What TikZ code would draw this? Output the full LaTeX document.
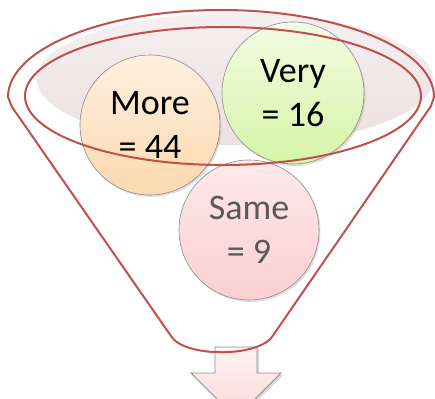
\documentclass[tikz,border=0pt]{standalone}
\usepackage{fontspec}
\setmainfont{Carlito}
\usetikzlibrary{shadows}
\definecolor{fred}{HTML}{C0504D}
\definecolor{ellA}{HTML}{F6EFF0}
\definecolor{ellB}{HTML}{EEDFE1}
\definecolor{moreA}{HTML}{FEF0DF}
\definecolor{moreB}{HTML}{FCD9AF}
\definecolor{veryA}{HTML}{F2FCE4}
\definecolor{veryB}{HTML}{D6F4A6}
\definecolor{sameA}{HTML}{FDE9E9}
\definecolor{sameB}{HTML}{FBCFD1}
\definecolor{arrA}{HTML}{FFF3F3}
\definecolor{arrB}{HTML}{FBD8D8}
\definecolor{sametext}{HTML}{595959}
\tikzset{
  ball/.style={circle, inner sep=0pt, minimum size=#1, draw=black!45, line width=0.6pt,
    align=center, font=\fontsize{36}{44}\selectfont,
    drop shadow={opacity=0.25, shadow xshift=1.5pt, shadow yshift=-2pt}},
  redline/.style={draw=fred, line width=2pt}
}
\begin{document}
\begin{tikzpicture}[x=1pt,y=-1pt]
\useasboundingbox (0,0) rectangle (435,398);
\begin{scope}
\clip (0,0) rectangle (435,398);
% soft filled ellipse
\shade[top color=ellA, bottom color=ellB] (235,79) ellipse [x radius=198, y radius=66];
% circles
\node[ball=140pt, top color=moreA, bottom color=moreB] (more) at (150,125) {More\\= 44};
\node[ball=142pt, top color=veryA, bottom color=veryB] (very) at (293,93) {Very\\= 16};
\node[ball=140pt, top color=sameA, bottom color=sameB, text=sametext] (same) at (249,230) {Same\\= 9};
% arrow
\path[draw=black!45, line width=0.8pt, top color=arrA, bottom color=arrB,
  drop shadow={opacity=0.3, shadow xshift=2pt, shadow yshift=-2pt}]
  (215,347) -- (257,347) -- (257,373) -- (281,373) -- (236,418) -- (191,373) -- (215,373) -- cycle;
% funnel
\draw[redline, line join=round]
  (8,97) arc[start angle=180, end angle=360, x radius=213, y radius=87]
  -- (431,106) -- (274,334)
  .. controls (262,358) and (184,358) .. (171,336)
  -- (12,107) -- cycle;
\draw[redline] (223,96) ellipse [x radius=198, y radius=69];
\end{scope}
\end{tikzpicture}
\end{document}
